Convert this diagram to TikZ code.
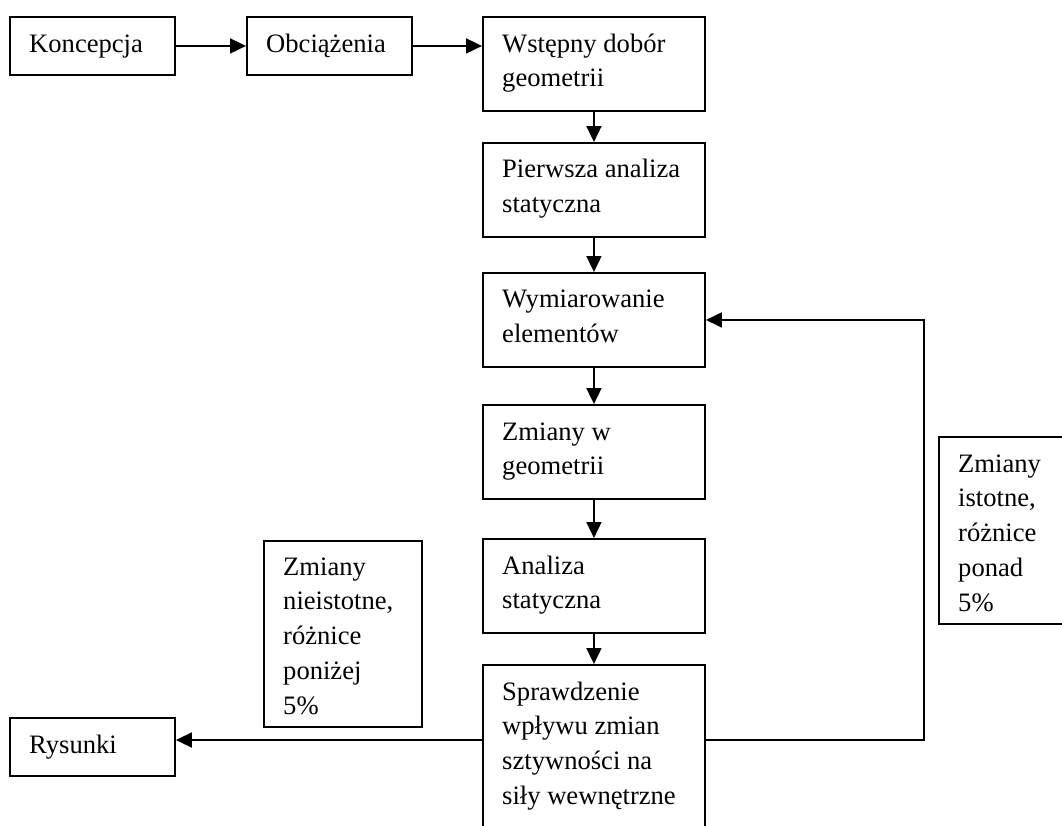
\documentclass[tikz,border=0pt]{standalone}
\usepackage{fontspec}
\setmainfont{Liberation Serif}
\usetikzlibrary{arrows.meta,calc}
\begin{document}
\begin{tikzpicture}[x=1pt,y=1pt,
  box/.style={draw, line width=1.9pt, rectangle, inner sep=0pt, anchor=north west},
  txt/.style={inner sep=0pt, anchor=base west, font=\fontsize{26.6}{34.8}\selectfont},
  arr/.style={line width=1.8pt, -{Triangle[length=16pt,width=15pt]}}]
\clip (0,0) rectangle (1062,-825);

% process boxes
\node[box, minimum width=165, minimum height=58] (kon) at (9,-16) {};
\node[box, minimum width=165, minimum height=58] (obc) at (246,-16) {};
\node[box, minimum width=222, minimum height=94] (wst) at (482,-16) {};
\node[box, minimum width=222, minimum height=94] (pie) at (482,-142) {};
\node[box, minimum width=222, minimum height=94] (wym) at (482,-272) {};
\node[box, minimum width=222, minimum height=94] (zmg) at (482,-404) {};
\node[box, minimum width=222, minimum height=94] (ana) at (482,-538) {};
\node[box, minimum width=222, minimum height=200] (spr) at (482,-664) {};
\node[box, minimum width=158, minimum height=186] (nie) at (263,-540) {};
\node[box, minimum width=150, minimum height=187] (ist) at (938,-436) {};
\node[box, minimum width=165, minimum height=58] (rys) at (9,-717) {};

% box texts
\node[txt] (kon-t) at ($(kon.north west)+(20,-36)$) {Koncepcja};
\node[txt] (obc-t) at ($(obc.north west)+(20,-36)$) {Obciążenia};
\node[txt] (wst-t) at ($(wst.north west)+(20,-36)$) {\begin{tabular}[t]{@{}l@{}}Wstępny dobór\\geometrii\end{tabular}};
\node[txt] (pie-t) at ($(pie.north west)+(20,-35.5)$) {\begin{tabular}[t]{@{}l@{}}Pierwsza analiza\\statyczna\end{tabular}};
\node[txt] (wym-t) at ($(wym.north west)+(20,-35.5)$) {\begin{tabular}[t]{@{}l@{}}Wymiarowanie\\elementów\end{tabular}};
\node[txt] (zmg-t) at ($(zmg.north west)+(20,-36)$) {\begin{tabular}[t]{@{}l@{}}Zmiany w\\geometrii\end{tabular}};
\node[txt] (ana-t) at ($(ana.north west)+(20,-36)$) {\begin{tabular}[t]{@{}l@{}}Analiza\\statyczna\end{tabular}};
\node[txt] (spr-t) at ($(spr.north west)+(20,-36)$) {\begin{tabular}[t]{@{}l@{}}Sprawdzenie\\wpływu zmian\\sztywności na\\siły wewnętrzne\end{tabular}};
\node[txt] (nie-t) at ($(nie.north west)+(20,-35)$) {\begin{tabular}[t]{@{}l@{}}Zmiany\\nieistotne,\\różnice\\poniżej\\5\%\end{tabular}};
\node[txt] (ist-t) at ($(ist.north west)+(20,-36)$) {\begin{tabular}[t]{@{}l@{}}Zmiany\\istotne,\\różnice\\ponad\\5\%\end{tabular}};
\node[txt] (rys-t) at ($(rys.north west)+(20,-36)$) {Rysunki};

% main flow
\draw[arr] (kon) -- (obc);
\draw[arr] (obc.east) -- (obc.east -| wst.west);
\draw[arr] (wst) -- (pie);
\draw[arr] (pie) -- (wym);
\draw[arr] (wym) -- (zmg);
\draw[arr] (zmg) -- (ana);
\draw[arr] (ana) -- (spr);

% decision outlets of the check box
\coordinate (sprL) at ($(spr.north west)+(0,-76)$);
\coordinate (sprR) at ($(spr.north east)+(0,-76)$);
\coordinate (loopx) at (924,0);
\draw[arr] (sprR) -- (sprR -| loopx) |- (wym.east);
\draw[arr] (sprL) -- (sprL -| rys.east);
\end{tikzpicture}
\end{document}
